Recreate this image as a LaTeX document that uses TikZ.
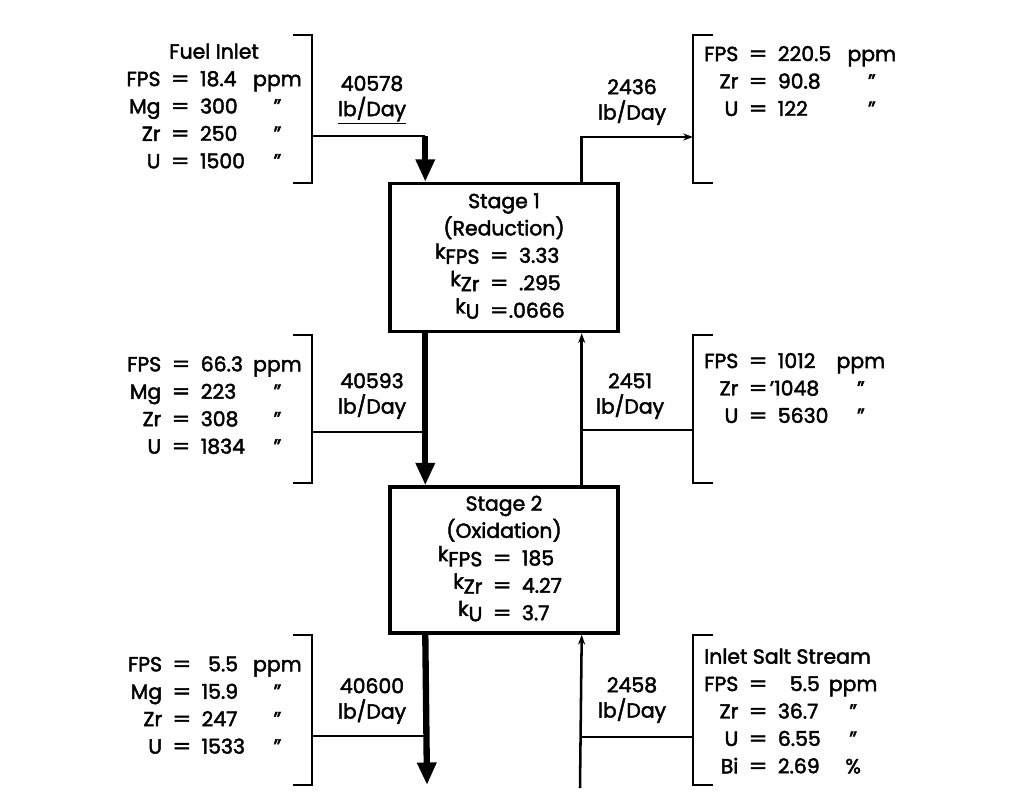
\documentclass[tikz,border=0pt]{standalone}
\usepackage{fontspec}
\usepackage{graphicx}
\setmainfont{Poppins}[FakeBold=2.2]
\usetikzlibrary{arrows.meta,calc}
\newcommand{\kcoef}[1]{\raisebox{3pt}{k}\raisebox{-0.7pt}{#1}}
\newcommand{\eqsep}{\hspace{0.5em}\scalebox{1.3}[1]{=}\hspace{0.5em}}
\newcommand{\ditto}{''}
\begin{document}
\begin{tikzpicture}[x=0.025cm, y=-0.025cm,
    stage/.style={draw, line width=2.4pt, minimum width=5.7cm, minimum height=3.7cm, inner sep=0pt, font=\fontsize{14.5}{19.3}\selectfont},
    data/.style={inner sep=0pt, font=\fontsize{14.5}{19.5}\selectfont},
    rate/.style={align=center, inner sep=0pt, font=\fontsize{14.5}{18}\selectfont},
    bracket/.style={line width=2pt},
    side/.style={line width=1.6pt},
    main/.style={line width=4.5pt, -{Triangle[length=16pt,width=13pt]}},
    salt/.style={line width=1.8pt, -{Stealth[length=7pt,width=5pt]}}]
    \useasboundingbox (0,0) rectangle (1013,809);
    \node[stage] (s1) at (504,257.5) {\begin{tabular}{@{}r@{\eqsep}l@{}}
        \multicolumn{2}{c}{Stage 1}\\ \multicolumn{2}{c}{(Reduction)}\\
        \kcoef{FPS} & 3.33\\ \kcoef{Zr} & .295\\ \kcoef{U} & \hspace{-0.5em}.0666
    \end{tabular}};
    \node[stage, minimum height=3.65cm] (s2) at (504,560) {\begin{tabular}{@{}r@{\eqsep}l@{}}
        \multicolumn{2}{c}{Stage 2}\\ \multicolumn{2}{c}{(Oxidation)}\\
        \kcoef{FPS} & 185\\ \kcoef{Zr} & 4.27\\ \kcoef{U} & 3.7
    \end{tabular}};
    \coordinate (s1in) at ($(s1.north west)+(37,0)$);
    \coordinate (s1out) at ($(s1.south west)+(37,0)$);
    \coordinate (s2in) at ($(s2.north west)+(37,0)$);
    \coordinate (s2out) at ($(s2.south west)+(37,0)$);
    \coordinate (s1ret) at ($(s1.north east)+(-38,0)$);
    \coordinate (s1rin) at ($(s1.south east)+(-38,0)$);
    \coordinate (s2ret) at ($(s2.north east)+(-38,0)$);
    \coordinate (s2rin) at ($(s2.south east)+(-38,0)$);
    \coordinate (prodend) at (427,785);
    \coordinate (saltend) at (580,788);
    \coordinate (fueltap) at (312,136);
    \coordinate (midtap) at (312,432);
    \coordinate (prodtap) at (312,736);
    \coordinate (wastetap) at (693,137);
    \coordinate (saltmidtap) at (693,430);
    \coordinate (saltintap) at (693,737);
    \foreach \ya/\yb in {35/183, 335/483, 635/785} {
        \draw[bracket] (293,\ya) -- (312,\ya) -- (312,\yb) -- (293,\yb);
        \draw[bracket] (713,\ya) -- (693,\ya) -- (693,\yb) -- (713,\yb);
    }
    \draw[side] (fueltap) -- (fueltap -| s1in);
    \draw[main] (fueltap -| s1in) -- (s1in);
    \draw[main] (s1out) -- (s2in);
    \draw[main] (s2out) -- (prodend);
    \draw[side] (midtap) -- (midtap -| s1out);
    \draw[side] (prodtap) -- (prodtap -| s2out);
    \draw[salt] (s1ret) |- (wastetap);
    \draw[salt] (s2ret) -- (s1rin);
    \draw[salt] (saltend) -- (s2rin);
    \draw[side] (saltmidtap) -- (saltmidtap -| s1rin);
    \draw[side] (saltintap) -- (saltintap -| s2rin);
    \node[rate] (r1) at (372,100) {40578\\\underline{lb/Day}};
    \node[rate] (r2) at (372,396) {40593\\lb/Day};
    \node[rate] (r3) at (372,701) {40600\\lb/Day};
    \node[rate] (r4) at (632,102) {2436\\lb/Day};
    \node[rate] (r5) at (630,396) {2451\\lb/Day};
    \node[rate] (r6) at (632,700) {2458\\lb/Day};
    \node[data, anchor=east] (feed) at (302,108) {\begin{tabular}{@{}r@{\eqsep}l@{\hspace{0.4em}}c@{}}
        \multicolumn{3}{c}{Fuel Inlet}\\
        FPS & 18.4 & ppm\\ Mg & 300 & \ditto\\ Zr & 250 & \ditto\\ U & 1500 & \ditto
    \end{tabular}};
    \node[data, anchor=east] (midmetal) at (302,407) {\begin{tabular}{@{}r@{\eqsep}l@{\hspace{0.4em}}c@{}}
        FPS & 66.3 & ppm\\ Mg & 223 & \ditto\\ Zr & 308 & \ditto\\ U & 1834 & \ditto
    \end{tabular}};
    \node[data, anchor=east] (prodmetal) at (302,707) {\begin{tabular}{@{}r@{\eqsep}l@{\hspace{0.4em}}c@{}}
        FPS & \phantom{1}5.5 & ppm\\ Mg & 15.9 & \ditto\\ Zr & 247 & \ditto\\ U & 1533 & \ditto
    \end{tabular}};
    \node[data, anchor=west] (wastesalt) at (704,83) {\begin{tabular}{@{}r@{\eqsep}l@{\hspace{0.8em}}c@{}}
        FPS & 220.5 & ppm\\ Zr & 90.8 & \ditto\\ U & 122 & \ditto
    \end{tabular}};
    \node[data, anchor=west] (midsalt) at (704,390) {\begin{tabular}{@{}r@{\eqsep}l@{\hspace{0.4em}}c@{}}
        FPS & 1012 & ppm\\ Zr & \hspace{-0.4em}'1048 & \ditto\\ U & 5630 & \ditto
    \end{tabular}};
    \node[data, anchor=west] (inletsalt) at (704,713) {\begin{tabular}{@{}r@{\eqsep}l@{\hspace{0.4em}}c@{}}
        \multicolumn{3}{@{}l@{}}{Inlet Salt Stream}\\
        FPS & \phantom{3}5.5 & ppm\\ Zr & 36.7 & \ditto\\ U & 6.55 & \ditto\\ Bi & 2.69 & \%
    \end{tabular}};
\end{tikzpicture}
\end{document}
